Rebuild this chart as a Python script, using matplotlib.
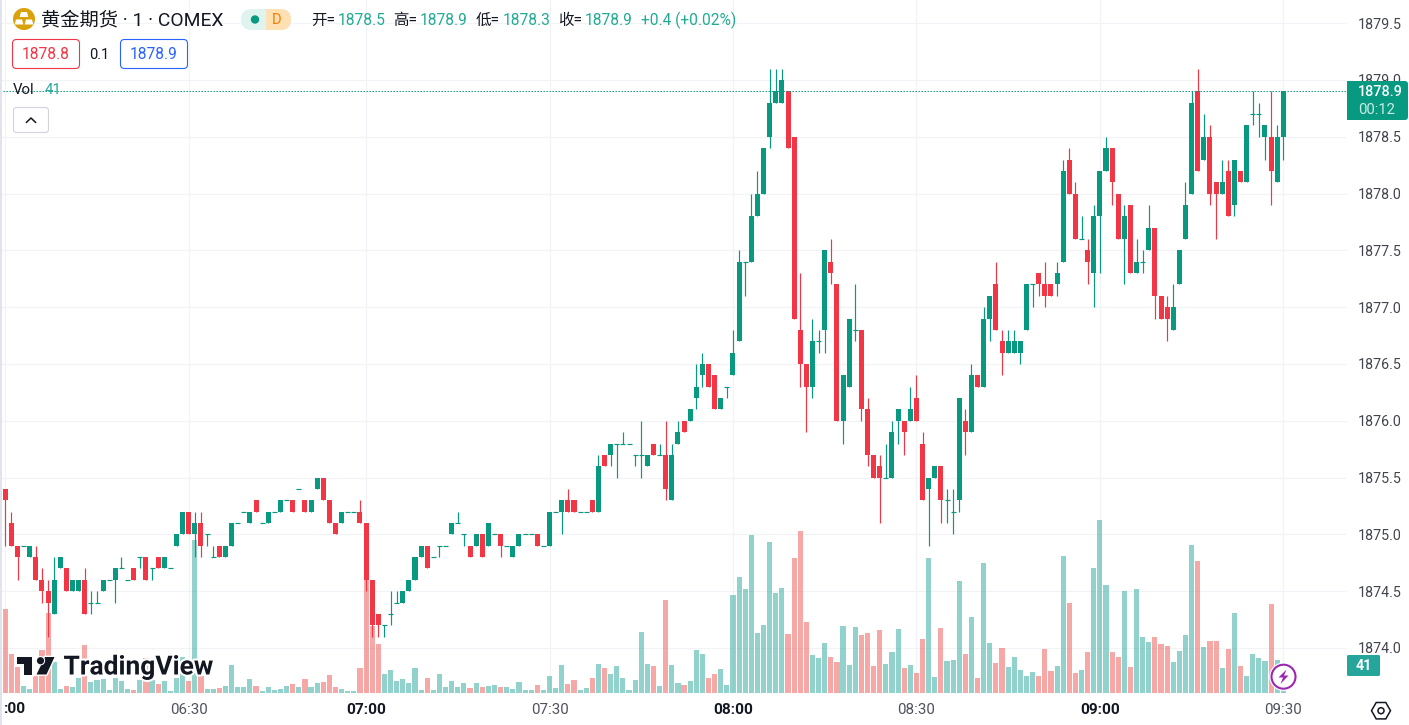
import matplotlib
matplotlib.use("Agg")
import matplotlib.pyplot as plt
from matplotlib.patches import Circle, FancyBboxPatch, Polygon, Rectangle
import matplotlib.patheffects as pe

plt.rcParams['font.family'] = ['Roboto', 'Noto Sans CJK SC', 'DejaVu Sans']

opens = [1875.4,1875.1,1874.9,1874.9,1874.8,1874.8,1874.6,1874.5,1874.3,1874.7,
1874.7,1874.5,1874.5,1874.6,1874.4,1874.4,1874.5,1874.6,1874.6,1874.7,
1874.6,1874.7,1874.8,1874.8,1874.7,1874.8,1874.7,1874.7,1874.9,1875.0,
1875.2,1875.0,1875.1,1875.0,1874.8,1874.9,1874.8,1874.9,1875.1,1875.2,
1875.1,1875.3,1875.1,1875.1,1875.2,1875.2,1875.3,1875.3,1875.4,1875.3,
1875.2,1875.4,1875.5,1875.3,1875.1,1875.1,1875.2,1875.2,1875.2,1875.1,
1874.6,1874.3,1874.2,1874.3,1874.4,1874.4,1874.5,1874.6,1874.8,1874.9,
1874.8,1874.9,1874.9,1875.0,1875.1,1875.0,1874.9,1874.9,1875.0,1874.9,
1875.0,1875.0,1874.9,1874.8,1874.9,1875.0,1875.0,1875.0,1874.9,1874.9,
1875.2,1875.2,1875.3,1875.3,1875.2,1875.2,1875.3,1875.2,1875.7,1875.7,
1875.8,1875.8,1875.8,1875.7,1875.7,1875.6,1875.8,1875.7,1875.7,1875.3,
1875.8,1876.0,1876.0,1876.2,1876.4,1876.5,1876.4,1876.1,1876.3,1876.4,
1876.7,1877.4,1877.4,1877.8,1878.0,1878.5,1878.8,1878.8,1878.9,1878.5,
1876.8,1876.5,1876.3,1876.7,1876.8,1877.4,1877.2,1876.0,1876.3,1876.8,
1876.8,1876.1,1875.7,1875.6,1875.5,1875.5,1876.0,1876.0,1876.0,1876.2,
1875.8,1875.4,1875.5,1875.6,1875.3,1875.2,1875.3,1876.0,1875.9,1876.4,
1876.3,1876.9,1877.2,1876.7,1876.6,1876.6,1876.6,1876.8,1877.2,1877.3,
1877.2,1877.2,1877.2,1877.4,1878.3,1878.0,1877.6,1877.5,1877.3,1877.8,
1878.2,1878.4,1878.0,1877.6,1877.9,1877.3,1877.4,1877.5,1877.7,1877.1,
1877.0,1876.8,1877.2,1877.6,1878.0,1878.9,1878.3,1878.5,1878.1,1878.0,
1878.2,1877.9,1878.2,1878.1,1878.7,1878.7,1878.5,1878.5,1878.1,1878.5]

closes = [1875.3,1874.9,1874.8,1874.9,1874.9,1874.6,1874.5,1874.4,1874.6,1874.8,
1874.5,1874.6,1874.6,1874.3,1874.4,1874.4,1874.6,1874.6,1874.7,1874.7,
1874.6,1874.6,1874.8,1874.6,1874.7,1874.7,1874.8,1874.7,1875.0,1875.2,
1875.0,1875.1,1874.9,1875.0,1874.8,1874.8,1874.9,1875.1,1875.1,1875.2,
1875.2,1875.2,1875.1,1875.2,1875.2,1875.3,1875.3,1875.2,1875.4,1875.2,
1875.3,1875.5,1875.3,1875.1,1875.0,1875.2,1875.2,1875.2,1875.1,1874.6,
1874.2,1874.2,1874.2,1874.3,1874.4,1874.5,1874.6,1874.8,1874.9,1874.7,
1874.8,1874.9,1874.9,1875.1,1875.1,1875.0,1874.8,1875.0,1874.8,1875.1,
1875.0,1874.9,1874.9,1874.9,1875.0,1875.0,1875.0,1874.9,1874.9,1875.2,
1875.2,1875.3,1875.2,1875.2,1875.2,1875.2,1875.2,1875.6,1875.6,1875.8,
1875.8,1875.8,1875.8,1875.7,1875.7,1875.7,1875.7,1875.7,1875.4,1875.7,
1875.9,1875.9,1876.1,1876.3,1876.5,1876.3,1876.1,1876.2,1876.3,1876.6,
1877.4,1877.4,1877.8,1878.0,1878.4,1878.8,1878.9,1879.0,1878.4,1876.9,
1876.5,1876.3,1876.7,1876.7,1877.5,1877.3,1876.0,1876.4,1876.9,1876.8,
1876.1,1875.7,1875.5,1875.5,1875.5,1875.9,1876.1,1875.9,1876.1,1876.0,
1875.3,1875.5,1875.6,1875.3,1875.3,1875.2,1876.2,1875.9,1876.4,1876.3,
1876.9,1877.1,1876.8,1876.6,1876.7,1876.7,1876.7,1877.2,1877.2,1877.2,
1877.1,1877.1,1877.3,1878.2,1878.0,1877.6,1877.6,1877.4,1877.8,1878.2,
1878.4,1878.1,1877.6,1877.8,1877.3,1877.4,1877.4,1877.7,1877.1,1876.9,
1876.9,1877.0,1877.5,1877.9,1878.8,1878.2,1878.5,1878.0,1878.0,1878.1,
1877.8,1878.3,1878.1,1878.6,1878.7,1878.7,1878.6,1878.2,1878.5,1878.9]

highs = [1875.4,1875.2,1874.9,1874.9,1874.9,1874.9,1874.7,1874.6,1874.8,1874.8,
1874.7,1874.6,1874.6,1874.7,1874.5,1874.5,1874.6,1874.6,1874.7,1874.8,
1874.6,1874.7,1874.8,1874.8,1874.7,1874.8,1874.8,1874.7,1875.0,1875.2,
1875.2,1875.2,1875.2,1875.0,1874.9,1874.9,1874.9,1875.1,1875.1,1875.2,
1875.2,1875.3,1875.1,1875.2,1875.2,1875.3,1875.3,1875.3,1875.4,1875.3,
1875.3,1875.5,1875.5,1875.3,1875.1,1875.2,1875.2,1875.2,1875.3,1875.1,
1874.6,1874.3,1874.2,1874.5,1874.5,1874.5,1874.6,1874.8,1874.9,1874.9,
1874.8,1874.9,1874.9,1875.1,1875.2,1875.0,1874.9,1875.0,1875.0,1875.1,
1875.0,1875.0,1874.9,1874.9,1875.0,1875.0,1875.0,1875.0,1874.9,1875.2,
1875.2,1875.3,1875.4,1875.3,1875.2,1875.2,1875.3,1875.7,1875.7,1875.8,
1875.8,1875.9,1875.8,1875.7,1876.0,1875.7,1875.8,1875.8,1876.0,1875.8,
1876.0,1876.0,1876.1,1876.5,1876.6,1876.5,1876.4,1876.2,1876.3,1876.8,
1877.5,1877.4,1878.0,1878.2,1878.4,1879.1,1879.1,1879.1,1878.9,1878.5,
1877.3,1876.5,1876.9,1876.8,1877.5,1877.6,1877.2,1876.4,1876.9,1877.2,
1876.8,1876.2,1875.7,1875.7,1875.8,1876.0,1876.1,1876.0,1876.3,1876.4,
1875.9,1875.5,1875.6,1875.6,1875.4,1875.4,1876.2,1876.1,1876.5,1876.4,
1877.0,1877.1,1877.4,1876.8,1876.8,1876.8,1876.7,1877.2,1877.2,1877.3,
1877.4,1877.2,1877.4,1878.3,1878.4,1878.1,1877.8,1877.6,1877.9,1878.2,
1878.5,1878.4,1878.0,1877.9,1877.9,1877.6,1877.5,1877.9,1877.7,1877.1,
1877.1,1877.2,1877.5,1878.1,1878.9,1879.1,1878.7,1878.6,1878.1,1878.3,
1878.3,1878.3,1878.2,1878.6,1878.9,1878.8,1878.6,1878.9,1878.6,1878.9]

lows = [1874.9,1874.9,1874.6,1874.9,1874.8,1874.6,1874.4,1874.1,1874.3,1874.7,
1874.5,1874.5,1874.5,1874.3,1874.3,1874.4,1874.5,1874.6,1874.4,1874.7,
1874.6,1874.6,1874.7,1874.6,1874.6,1874.7,1874.7,1874.7,1874.9,1875.0,
1875.0,1874.8,1874.8,1874.9,1874.8,1874.8,1874.8,1874.9,1875.1,1875.2,
1875.1,1875.2,1875.1,1875.1,1875.2,1875.2,1875.3,1875.2,1875.4,1875.2,
1875.2,1875.4,1875.3,1875.1,1875.0,1875.1,1875.2,1875.2,1875.1,1874.5,
1874.1,1874.1,1874.1,1874.2,1874.4,1874.4,1874.5,1874.6,1874.8,1874.7,
1874.8,1874.8,1874.9,1875.0,1875.1,1874.9,1874.8,1874.9,1874.8,1874.9,
1875.0,1874.8,1874.9,1874.8,1874.9,1875.0,1875.0,1874.9,1874.9,1874.9,
1875.2,1875.0,1875.2,1875.2,1875.2,1875.2,1875.2,1875.2,1875.6,1875.6,
1875.5,1875.8,1875.8,1875.6,1875.5,1875.6,1875.7,1875.7,1875.3,1875.3,
1875.8,1875.9,1876.0,1876.1,1876.3,1876.3,1876.1,1876.1,1876.2,1876.4,
1876.7,1877.1,1877.4,1877.8,1878.0,1878.4,1878.8,1878.8,1878.4,1876.9,
1876.3,1875.9,1876.2,1876.6,1876.6,1877.2,1876.0,1875.8,1876.3,1876.7,
1876.0,1875.6,1875.5,1875.1,1875.5,1875.5,1875.8,1875.7,1876.0,1876.0,
1875.3,1874.9,1875.5,1875.1,1875.1,1875.0,1875.2,1875.7,1875.9,1876.3,
1876.3,1876.7,1876.8,1876.4,1876.6,1876.6,1876.5,1876.8,1877.0,1877.1,
1877.0,1877.1,1877.1,1877.4,1878.0,1877.6,1877.6,1877.2,1877.0,1877.3,
1878.2,1877.9,1877.6,1877.2,1877.3,1877.3,1877.3,1877.5,1876.9,1876.9,
1876.7,1876.8,1877.2,1877.6,1878.0,1878.2,1878.3,1877.9,1877.6,1878.0,
1877.8,1877.8,1878.1,1878.1,1878.6,1878.5,1878.3,1877.9,1878.1,1878.3]

volumes = [131,61,41,11,6,26,67,125,49,6,
11,9,23,75,17,20,22,5,23,19,
6,5,20,54,20,14,19,3,23,56,
19,239,26,6,6,8,11,44,9,9,
22,11,3,9,5,6,11,14,9,22,
9,16,17,28,9,6,3,3,39,177,
105,77,30,36,19,22,16,39,5,23,
5,30,9,19,9,16,8,16,9,11,
13,9,9,6,17,5,5,13,5,27,
8,44,14,20,5,8,23,45,39,30,
42,23,5,20,95,45,42,11,145,44,
16,13,19,67,61,23,30,38,13,153,
181,163,247,94,106,236,156,164,92,211,
253,111,59,55,78,56,48,105,44,103,
91,94,42,98,45,64,100,39,44,31,
84,211,25,102,50,52,175,61,119,23,
203,78,47,70,41,56,36,27,33,27,
69,34,42,214,141,31,36,64,195,270,
169,64,56,159,41,163,88,80,88,77,
73,48,66,91,231,206,72,81,81,39,
69,125,42,27,61,55,50,139,52,41]

price_ticks = [1874.0,1874.5,1875.0,1875.5,1876.0,1876.5,1877.0,1877.5,1878.0,1878.5,1879.0,1879.5]
time_ticks = [30,59,89,119,149,179,209]
time_labels = ['06:30','07:00','07:30','08:00','08:30','09:00','09:30']
time_bold = ['07:00','08:00','09:00']

UP = '#089981'; DOWN = '#f23645'
VUP = '#26a69a'; VDN = '#ef5350'
GRID = '#f2f3f6'
W, H = 1409, 725
PANE_R, PANE_B = 1347, 693
X0, DX = 5.3, 6.115
Y1875, PY = 534.4, 113.6
PXV = 0.64

fig = plt.figure(figsize=(W/100, H/100), dpi=100, facecolor='white')
pos = [0, (H-PANE_B)/H, PANE_R/W, PANE_B/H]
xlim = (-X0/DX, (PANE_R-X0)/DX)
ylim = (1875-(PANE_B-Y1875)/PY, 1875+Y1875/PY)

av = fig.add_axes(pos, zorder=1)
av.set_xlim(xlim); av.set_ylim(0, PANE_B/PXV)
av.axis('off')
ax = fig.add_axes(pos, zorder=2)
ax.patch.set_alpha(0)
ax.set_xlim(xlim); ax.set_ylim(ylim)
for s in ax.spines.values():
    s.set_visible(False)

# grid on the lowest layer
bg = fig.add_axes(pos, zorder=0)
bg.set_xlim(xlim); bg.set_ylim(ylim); bg.axis('off')
for t in price_ticks:
    bg.axhline(t, color=GRID, lw=0.9)
for t in [0] + time_ticks:
    bg.axvline(t, color=GRID, lw=0.9)

n = len(closes)
idx = list(range(n))
up = [closes[i] >= opens[i] for i in idx]
av.bar(idx, volumes, width=0.84, color=[VUP if u else VDN for u in up], alpha=0.5, linewidth=0)

cols = [UP if u else DOWN for u in up]
ax.vlines(idx, lows, highs, colors=cols, lw=0.85, zorder=2)
bot = [min(opens[i], closes[i]) for i in idx]
hgt = [abs(opens[i]-closes[i]) for i in idx]
ax.bar(idx, hgt, bottom=bot, width=0.82, color=cols, linewidth=0, zorder=3)
dj = [i for i in idx if hgt[i] == 0]
ax.hlines([closes[i] for i in dj], [i-0.41 for i in dj], [i+0.41 for i in dj],
          colors=[cols[i] for i in dj], lw=0.85, zorder=3)
ax.axhline(closes[-1], color=UP, lw=0.75, linestyle=(0, (1.33, 1.55)), zorder=4)

ax.yaxis.tick_right()
ax.set_yticks(price_ticks)
ax.set_yticklabels(['%.1f' % t for t in price_ticks])
ax.tick_params(axis='y', length=0, pad=7.7, labelsize=10.3, labelcolor='#42454f')
ax.set_xticks(time_ticks)
ax.set_xticklabels(time_labels)
ax.tick_params(axis='x', length=0, pad=7.0, labelsize=10.9, labelcolor='#50535e')
for lab in ax.get_xticklabels():
    if lab.get_text() in time_bold:
        lab.set_fontweight('bold'); lab.set_color('#131722'); lab.set_fontsize(11.1)

# overlay in pixel coordinates
ov = fig.add_axes([0, 0, 1, 1], zorder=5)
ov.set_xlim(0, W); ov.set_ylim(H, 0); ov.axis('off'); ov.patch.set_alpha(0)

ov.add_patch(Rectangle((0, 0), 1.8, H, color='#e0e3eb', lw=0))
ov.text(14, 709, ':00', ha='center', va='center', fontsize=11.1, fontweight='bold', color='#131722')

# header
ov.add_patch(Circle((24, 19), 11, color='#d9a20b', lw=0))
for cx, cy in [(24, 14.5), (19, 22), (29, 22)]:
    ov.add_patch(Polygon([(cx-3, cy-2.5), (cx+3, cy-2.5), (cx+4.3, cy+2.5), (cx-4.3, cy+2.5)], color='white', lw=0))
ov.text(41, 20, '黄金期货 · 1 · COMEX', va='center', ha='left', fontsize=13.9, color='#131722')
ov.add_patch(FancyBboxPatch((241, 9), 50, 21, boxstyle='round,pad=0,rounding_size=10.5', fc='#dff3ef', ec='none'))
clip = FancyBboxPatch((241, 9), 50, 21, boxstyle='round,pad=0,rounding_size=10.5', fc='none', ec='none', transform=ov.transData)
ov.add_patch(clip)
r = Rectangle((266, 9), 25, 21, fc='#ffe0b2', ec='none'); ov.add_patch(r); r.set_clip_path(clip)
ov.add_patch(Circle((255, 19.5), 4.2, color=UP, lw=0))
ov.text(276.5, 19.5, 'D', ha='center', va='center', fontsize=10.5, color='#f57c00')

TEAL = '#22ab94'
legend_labels = [('开=', 311, '1878.5', 338), ('高=', 393, '1878.9', 420), ('低=', 476, '1878.3', 503), ('收=', 558, '1878.9', 585)]
for a, xa, b, xb in legend_labels:
    ov.text(xa, 20, a, va='center', fontsize=11.2, color='#131722')
    ov.text(xb, 20, b, va='center', fontsize=11.2, color=TEAL)
ov.text(641, 20, '+0.4 (+0.02%)', va='center', fontsize=11.2, color=TEAL)

ov.add_patch(FancyBboxPatch((12.5, 39.5), 67, 29, boxstyle='round,pad=0,rounding_size=4', fc='white', ec=DOWN, lw=0.8))
ov.text(46, 54.5, '1878.8', ha='center', va='center', fontsize=11.2, color=DOWN)
ov.text(99.5, 54.5, '0.1', ha='center', va='center', fontsize=10.5, color='#131722')
ov.add_patch(FancyBboxPatch((120.5, 39.5), 67, 29, boxstyle='round,pad=0,rounding_size=4', fc='white', ec='#2962ff', lw=0.8))
ov.text(154, 54.5, '1878.9', ha='center', va='center', fontsize=11.2, color='#2962ff')

ov.text(13, 89.5, 'Vol', va='center', fontsize=10.8, color='#131722')
ov.text(44.5, 89.5, '41', va='center', fontsize=10.8, color=VUP)
ov.add_patch(FancyBboxPatch((13.5, 107.5), 35, 25, boxstyle='round,pad=0,rounding_size=3', fc='white', ec='#d1d4dc', lw=0.8))
ov.plot([26.5, 31, 35.5], [122.3, 118, 122.3], color='#131722', lw=1.1)

# watermark
halo = [pe.withStroke(linewidth=3, foreground='white')]
shapes = [[(16.7, 657), (32.3, 657), (32.3, 674.5), (24.3, 674.5), (24.3, 663.5), (16.7, 663.5)],
          [(45, 657), (54.5, 657), (46.5, 674.5), (36.5, 674.5)]]
for s in shapes:
    ov.add_patch(Polygon(s, fc='#131722', ec='none', path_effects=[pe.withStroke(linewidth=2, foreground='white')]))
ov.add_patch(Circle((40.5, 660.7), 3.6, fc='#131722', ec='none', path_effects=[pe.withStroke(linewidth=1.5, foreground='white')]))
ov.text(63.5, 667.5, 'TradingView', va='center', ha='left', fontsize=19, fontweight='bold', color='#131722', path_effects=halo)

# last price tag
ov.add_patch(FancyBboxPatch((1347, 81), 61, 39, boxstyle='round,pad=0,rounding_size=3', fc=UP, ec='none'))
ov.add_patch(Rectangle((1347, 81), 6, 39, fc=UP, ec='none'))
ov.text(1358, 92, '1878.9', ha='left', va='center', fontsize=10.4, fontweight='medium', color='white')
ov.text(1358, 110, '00:12', ha='left', va='center', fontsize=10.7, color='#cdeae4')

ov.add_patch(FancyBboxPatch((1347, 655), 33, 21, boxstyle='round,pad=0,rounding_size=1.5', fc=VUP, ec='none'))
ov.text(1364, 666, '41', ha='center', va='center', fontsize=10.3, fontweight='bold', color='white')

# lightning badge
ov.add_patch(Circle((1283.5, 676.7), 14.2, fc='white', ec='none'))
ov.add_patch(Circle((1283.5, 676.7), 12, fc='white', ec='#9c27b0', lw=1.5))
ov.add_patch(Polygon([(1286.5, 669.5), (1278.5, 677.5), (1283, 677.5), (1280.5, 684), (1288.5, 675.5), (1284, 675.5)], fc='#9c27b0', ec='none'))

# settings icon
ov.add_patch(Polygon([(1371.5, 710.7), (1376.2, 702.5), (1385.8, 702.5), (1390.5, 710.7), (1385.8, 718.9), (1376.2, 718.9)],
                     fc='none', ec='#131722', lw=1.1))
ov.add_patch(Circle((1381, 710.7), 3, fc='none', ec='#131722', lw=1.1))

fig.savefig('out.png', dpi=100)
